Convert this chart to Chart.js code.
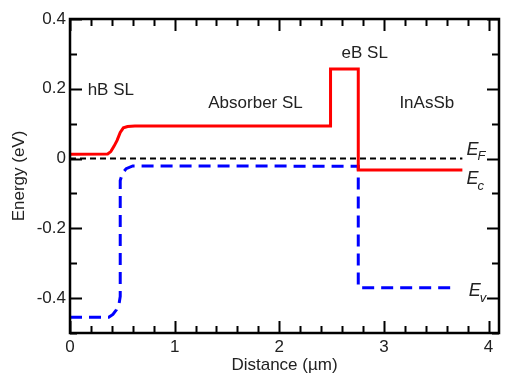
<!DOCTYPE html>
<html>
<head>
<meta charset="utf-8">
<script src="https://cdn.jsdelivr.net/npm/chart.js@4.4.0/dist/chart.umd.min.js"></script>
<style>
html, body { margin: 0; padding: 0; background: #fff; }
#wrap { width: 507px; height: 374px; }
</style>
</head>
<body>
<div id="wrap"><canvas id="bands"></canvas></div>
<script>
// conduction band edge (red)
const xValuesEc = [0, 0.36, 0.39, 0.42, 0.45, 0.48, 0.51, 0.55, 0.62, 2.49, 2.49, 2.755, 2.755, 3.75];
const yValuesEc = [0.012, 0.013, 0.02, 0.035, 0.052, 0.075, 0.088, 0.092, 0.093, 0.093, 0.257, 0.257, -0.033, -0.033];
// valence band edge (blue dashed)
const xValuesEv = [0, 0.37, 0.41, 0.445, 0.47, 0.48, 0.48, 0.5, 0.537, 0.6, 2.74, 2.755, 2.755, 3.7];
const yValuesEv = [-0.455, -0.455, -0.447, -0.433, -0.414, -0.395, -0.063, -0.043, -0.029, -0.021, -0.022, -0.022, -0.37, -0.37];
// fermi level
const xValuesEf = [0, 3.75];
const yValuesEf = [0, 0];

const xTicks = [0, 1, 2, 3, 4];
const yTicks = [-0.4, -0.2, 0, 0.2, 0.4];

const regionLabels = ["hB SL", "Absorber SL", "eB SL", "InAsSb"];
const regionX = [0.39, 1.773, 2.817, 3.41];
const regionY = [0.196, 0.157, 0.301, 0.157];

const FONT = "Liberation Sans, Arial, sans-serif";

function pts(xs, ys) {
	return xs.map((x, i) => ({x: x, y: ys[i]}));
}

const frameTicks = {
	id: "frameTicks",
	afterDraw(chart) {
		const ctx = chart.ctx;
		const a = chart.chartArea;
		const xs = chart.scales.x, ys = chart.scales.y;
		ctx.save();
		ctx.strokeStyle = "#000";
		ctx.lineWidth = 2;
		ctx.beginPath();
		for (let i = 0; i <= 20; i++) {
			const v = i * 0.2;
			const px = Math.round(xs.getPixelForValue(v)) + 0.5;
			const len = (i % 5 === 0) ? 12 : 7;
			ctx.moveTo(px, a.bottom); ctx.lineTo(px, a.bottom - len);
			ctx.moveTo(px, a.top); ctx.lineTo(px, a.top + len);
		}
		for (let i = -5; i <= 4; i++) {
			const v = i * 0.1;
			const py = Math.round(ys.getPixelForValue(v)) + 0.5;
			const len = (i % 2 === 0) ? 12 : 7;
			ctx.moveTo(a.left, py); ctx.lineTo(a.left + len, py);
			ctx.moveTo(a.right, py); ctx.lineTo(a.right - len, py);
		}
		ctx.stroke();
		ctx.lineWidth = 2.5;
		ctx.strokeRect(a.left, a.top, a.right - a.left, a.bottom - a.top);

		// region labels
		ctx.fillStyle = "#222";
		ctx.font = "17px " + FONT;
		ctx.textAlign = "center";
		ctx.textBaseline = "middle";
		regionLabels.forEach((t, i) => {
			ctx.fillText(t, xs.getPixelForValue(regionX[i]), ys.getPixelForValue(regionY[i]));
		});

		// band labels E_F, E_c, E_v
		const sub = (main, s, xv, yv) => {
			const px = xs.getPixelForValue(xv), py = ys.getPixelForValue(yv);
			ctx.textAlign = "left";
			ctx.font = "italic 18px " + FONT;
			ctx.fillText(main, px, py);
			const w = ctx.measureText(main).width;
			ctx.font = "italic 13px " + FONT;
			ctx.fillText(s, px + w - 1, py + 7);
		};
		sub("E", "F", 3.79, 0.025);
		sub("E", "c", 3.79, -0.06);
		sub("E", "v", 3.81, -0.38);
		ctx.restore();
	}
};

new Chart("bands", {
	type: "scatter",
	data: {
		datasets: [{
			data: pts(xValuesEf, yValuesEf),
			showLine: true,
			borderColor: "#000",
			borderWidth: 2,
			borderDash: [6, 4],
			pointRadius: 0
		}, {
			data: pts(xValuesEc, yValuesEc),
			showLine: true,
			borderColor: "#ff0000",
			borderWidth: 3,
			pointRadius: 0
		}, {
			data: pts(xValuesEv, yValuesEv),
			showLine: true,
			borderColor: "#0000ff",
			borderWidth: 3,
			borderDash: [12, 7],
			pointRadius: 0
		}]
	},
	options: {
		responsive: true,
		maintainAspectRatio: false,
		animation: false,
		layout: {padding: {top: 19, right: 8, left: 0, bottom: 0}},
		plugins: {legend: {display: false}, tooltip: {enabled: false}},
		scales: {
			x: {
				type: "linear",
				min: 0,
				max: 4.1,
				afterBuildTicks: s => { s.ticks = xTicks.map(v => ({value: v})); },
				afterFit: s => { s.height = 41; },
				grid: {display: false, drawTicks: false},
				border: {display: false},
				ticks: {color: "#222", padding: 4, font: {family: FONT, size: 17}, callback: v => String(v)},
				title: {display: true, text: "Distance (µm)", color: "#222", padding: 0, font: {family: FONT, size: 17, lineHeight: 1}}
			},
			y: {
				type: "linear",
				min: -0.5,
				max: 0.4,
				afterBuildTicks: s => { s.ticks = yTicks.map(v => ({value: v})); },
				afterFit: s => { s.width = 70; },
				grid: {display: false, drawTicks: false},
				border: {display: false},
				ticks: {color: "#222", padding: 4, font: {family: FONT, size: 17}, callback: v => String(v)},
				title: {display: true, text: "Energy (eV)", color: "#222", padding: {top: 11, bottom: 0}, font: {family: FONT, size: 17, lineHeight: 1}}
			}
		}
	},
	plugins: [frameTicks]
});
</script>
</body>
</html>
